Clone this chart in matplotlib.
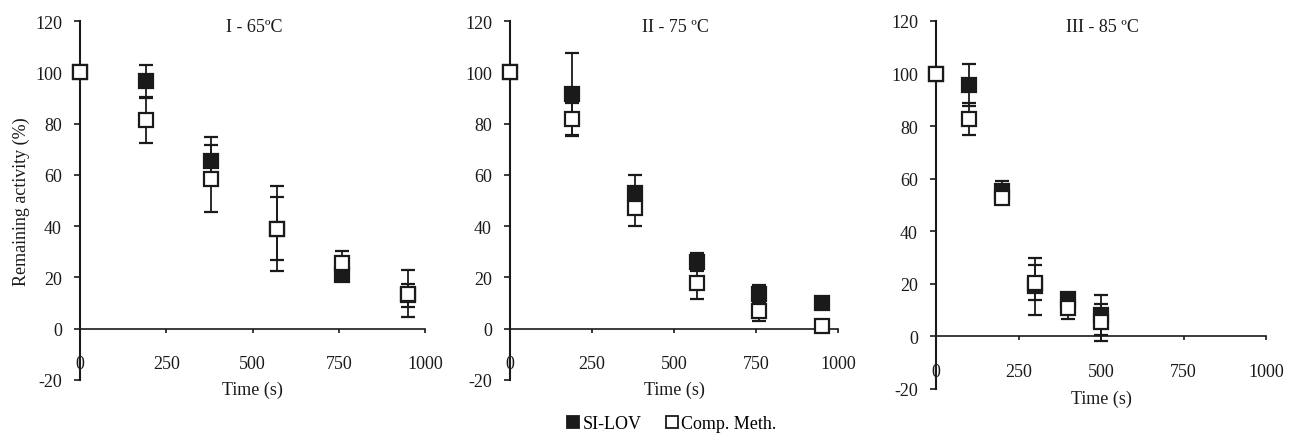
import numpy as np
import matplotlib
matplotlib.use('Agg')
import matplotlib.pyplot as plt
from matplotlib.lines import Line2D

plt.rcParams['font.family'] = ['Liberation Serif', 'DejaVu Serif']
plt.rcParams['axes.unicode_minus'] = False

# Thermal inactivation data, three temperatures
t1 = [0, 190, 380, 570, 760, 950]
si1 = [100, 96.5, 65.5, 39, 21, 13]
si1_err = [0, 6.3, 9.2, 12.3, 2, 4.6]
cm1 = [100, 81.3, 58.5, 39, 25.5, 13.7]
cm1_err = [0, 8.7, 13, 16.5, 5, 9.2]

t2 = [0, 190, 380, 570, 760, 950]
si2 = [100, 91.7, 53.1, 25.9, 13.6, 10.1]
si2_err = [0, 16, 6.8, 3.5, 3.4, 0]
cm2 = [100, 81.7, 47.2, 17.9, 6.9, 1.0]
cm2_err = [0, 6.5, 7, 6.2, 3.9, 0]

t3 = [0, 100, 200, 300, 400, 500]
si3 = [100, 95.7, 55.3, 19, 14.2, 8.2]
si3_err = [0, 8, 3.8, 11, 1.5, 7.5]
cm3 = [100, 82.8, 52.5, 20.5, 11, 5.4]
cm3_err = [0, 6, 1.5, 6.5, 4.3, 7]

titles = ['I - 65ºC', 'II - 75 ºC', 'III - 85 ºC']
xticks = [0, 250, 500, 750, 1000]
yticks = [-20, 0, 20, 40, 60, 80, 100, 120]

fig = plt.figure(figsize=(12.89, 4.35), dpi=100)
W, H = 1289, 435
boxes = [(80, 425, 22, 381), (510, 838, 22, 381), (936, 1266, 22, 390)]

panels = [(t1, si1, si1_err, cm1, cm1_err),
          (t2, si2, si2_err, cm2, cm2_err),
          (t3, si3, si3_err, cm3, cm3_err)]

ink = '#1a1a1a'
fs = 13
for i, (box, data) in enumerate(zip(boxes, panels)):
    l, r, top, bot = box
    ax = fig.add_axes([l / W, 1 - bot / H, (r - l) / W, (bot - top) / H])
    t, si, si_e, cm, cm_e = data
    for y, e, face, z in [(si, si_e, ink, 3), (cm, cm_e, 'white', 4)]:
        lines = ax.errorbar(t, y, yerr=e, fmt='s', color=ink, mfc=face, mec=ink,
                            ms=10, mew=1.6, ecolor=ink, elinewidth=1.3,
                            capsize=4.8, capthick=1.3, zorder=z)
        for artist in lines.get_children():
            artist.set_clip_on(False)
        lines[0].set_clip_on(False)
    ax.set_xlim(0, 1000)
    ax.set_ylim(-20, 120)
    ax.set_xticks(xticks)
    ax.set_yticks(yticks)
    ax.spines['top'].set_visible(False)
    ax.spines['right'].set_visible(False)
    ax.spines['bottom'].set_position(('data', 0))
    ax.spines['left'].set_linewidth(1.5)
    ax.spines['bottom'].set_linewidth(1.2)
    ax.spines['left'].set_color(ink)
    ax.spines['bottom'].set_color(ink)
    ax.tick_params(axis='x', direction='out', length=3, width=1.2, pad=16,
                   labelsize=fs, colors=ink)
    ax.tick_params(axis='y', direction='out', length=4, width=1.2, pad=9,
                   labelsize=fs, colors=ink)
    ax.set_xlabel('Time (s)', fontsize=fs, color=ink)
    ax.xaxis.set_label_coords(0.5, -0.003)
    ax.text(0.505, 0.985, titles[i], transform=ax.transAxes, ha='center',
            va='center', fontsize=fs, color=ink)
    if i == 0:
        ax.set_ylabel('Remaining activity (%)', fontsize=fs, color=ink)
        ax.yaxis.set_label_coords(-0.145, 0.5)
    ax.set_facecolor('none')

handles = [Line2D([], [], ls='none', marker='s', ms=8, mfc=ink, mec=ink, mew=1.3),
           Line2D([], [], ls='none', marker='s', ms=8, mfc='white', mec=ink, mew=1.3)]
fig.legend(handles, ['SI-LOV', 'Comp. Meth.'], loc='center',
           bbox_to_anchor=(0.52, 0.024), ncol=2, frameon=False,
           handletextpad=0.0, columnspacing=1.2, fontsize=fs, handlelength=1.0)

fig.savefig('out.png', dpi=100)
